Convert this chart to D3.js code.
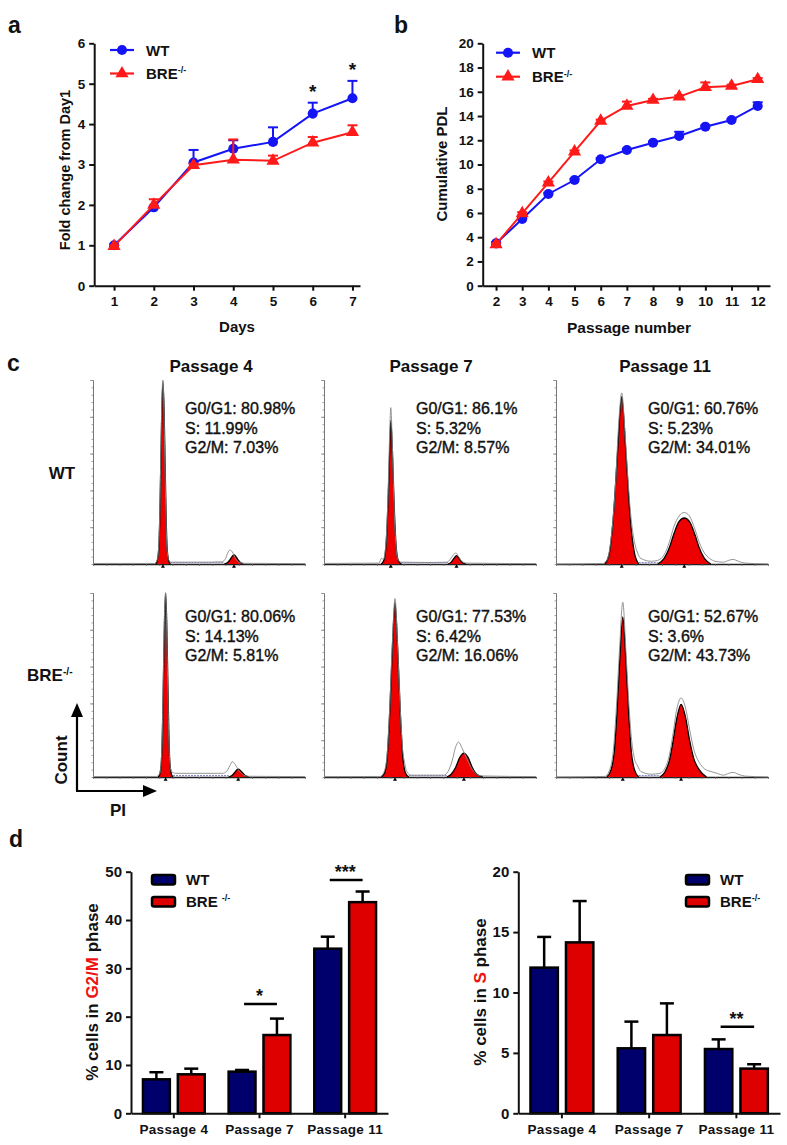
<!DOCTYPE html>
<html><head><meta charset="utf-8">
<script src="https://cdn.jsdelivr.net/npm/d3@7"></script>
<style>body{margin:0;background:#fff}svg{display:block}text{font-family:'Liberation Sans',Arial,Helvetica,sans-serif}</style>
</head><body><script>
// ---------------- DATA ----------------
// Panel a
const days = [1,2,3,4,5,6,7];
const foldWT = [1.0,1.94,3.05,3.39,3.56,4.26,4.64];
const foldWTErr = [0.02,0.04,0.31,0.21,0.36,0.27,0.43];
const foldBRE = [0.98,2.0,2.98,3.12,3.09,3.54,3.8];
const foldBREErr = [0.02,0.14,0.04,0.5,0.13,0.14,0.17];
const foldSig = [{x:6,label:"*"},{x:7,label:"*"}];
const foldYTicks = [0,1,2,3,4,5,6];
// Panel b
const passages = [2,3,4,5,6,7,8,9,10,11,12];
const pdlWT = [3.49,5.5,7.57,8.72,10.43,11.2,11.8,12.35,13.12,13.67,14.83];
const pdlWTErr = [0.1,0.1,0.1,0.1,0.1,0.1,0.1,0.35,0.1,0.1,0.3];
const pdlBRE = [3.41,5.97,8.5,11.06,13.6,14.83,15.32,15.6,16.37,16.48,17.03];
const pdlBREErr = [0.1,0.1,0.1,0.1,0.1,0.36,0.1,0.1,0.4,0.1,0.1];
const pdlYTicks = [0,2,4,6,8,10,12,14,16,18,20];
// Panel c (flow cytometry histograms; x = PI channel 0-200, y = % of max count)
const histCols = ["Passage 4","Passage 7","Passage 11"];
const histRows = ["WT","BRE"];
const histStats = [
  ["G0/G1: 80.98%","S: 11.99%","G2/M: 7.03%"],
  ["G0/G1: 86.1%","S: 5.32%","G2/M: 8.57%"],
  ["G0/G1: 60.76%","S: 5.23%","G2/M: 34.01%"],
  ["G0/G1: 80.06%","S: 14.13%","G2/M: 5.81%"],
  ["G0/G1: 77.53%","S: 6.42%","G2/M: 16.06%"],
  ["G0/G1: 52.67%","S: 3.6%","G2/M: 43.73%"]
];
const p4wtG1 = [[59,0],[60.5,1.5],[62,8],[63,25],[64,55],[65,85],[66,99],[67,85],[68,55],[69,25],[70,8],[71.5,1.5],[73,0]];
const p4wtG2 = [[124,0],[127,0.8],[129.5,2.5],[131.5,4.3],[133,5],[134.5,4.3],[136.5,2.5],[139,0.8],[142,0]];
const p4wtRaw = [[0,0.3],[58,0.3],[60.5,2],[62,10],[63,28],[64,60],[65,90],[66,100],[67,82],[68,50],[69,22],[70,7],[71.5,2],[74,1],[90,1],[110,1],[122,1.2],[125,3],[127.5,6.5],[129.5,7.6],[131.5,6.5],[134,3.5],[137,1.2],[142,0.4],[200,0.2]];
const p7wtG1 = [[54,0],[56.5,2],[58.5,10],[60.5,35],[62,62],[63,78],[64.5,62],[66,35],[68,10],[70,2],[73,0]];
const p7wtG2 = [[117,0],[120,1],[122.5,3],[125,4.5],[127.5,3],[130,1],[134,0]];
const p7wtRaw = [[0,0.3],[52,0.5],[54,3],[56,2.5],[58.5,12],[60.5,40],[62,72],[63,85],[64.5,64],[66,33],[68,9],[70,2],[73,1],[100,0.8],[116,1],[119,2.5],[122,5],[124.5,6],[127,4],[130,1.5],[134,0.5],[200,0.2]];
const p11wtG1 = [[46,0],[50,5],[54,25],[58,60],[62,91],[66,60],[70,25],[74,6],[78,0]];
const p11wtG2 = [[96,0],[102,3],[107,9],[111,16],[116,23],[121,25],[126,23],[131,16],[135,9],[140,3],[146,0]];
const p11wtRaw = [[0,0],[44,0.3],[48,2],[52,14],[56,42],[59,75],[62,93],[65,72],[68,45],[71,24],[74,12],[77,6],[80,3],[90,1.5],[96,2],[102,5],[107,12],[111,20],[116,26],[121,28],[126,26],[131,19],[135,12],[140,6],[145,3],[150,1.5],[158,1],[163,2],[167,2.5],[172,1.5],[178,0.5],[200,0]];
const p4breG1 = [[61.5,0],[63,1.5],[64.5,8],[65.5,25],[66.5,55],[67.5,85],[68.5,100],[69.5,85],[70.5,55],[71.5,25],[72.5,8],[74,1.5],[75.5,0]];
const p4breG2 = [[128,0],[131,0.8],[133.5,2.3],[135.5,3.8],[137,4.3],[139,3.6],[141.5,2],[144,0.6],[147,0]];
const p4breRaw = [[0,0.2],[60,0.3],[63,2],[64.5,10],[65.5,28],[66.5,60],[67.5,90],[68.5,100],[69.5,82],[70.5,50],[71.5,22],[72.5,8],[74,3],[78,2],[100,2],[122,2],[126,3],[129,6],[131.5,8.3],[134,7],[137,4],[141,1.5],[146,0.4],[200,0.2]];
const p7breG1 = [[54,0],[57,2],[59.5,10],[62,35],[64.5,70],[67,95],[69.5,70],[72,35],[74.5,10],[77,2],[80,0]];
const p7breG2 = [[116,0],[120,1.5],[124,5],[128,10.5],[132,13],[136,10.5],[140,5],[144,1.5],[150,0]];
const p7breRaw = [[0,0.2],[53,0.3],[56,2],[59,9],[62,38],[64.5,73],[67,97],[69.5,70],[72,36],[74,16],[76,8],[78,3],[82,1],[100,1],[113,1],[117,3],[121,9],[124,16],[127,19],[130,16],[134,11],[138,6],[142,2.5],[148,0.6],[200,0.2]];
const p11breG1 = [[48,0],[52,4],[55,14],[57.5,35],[60,62],[63,87],[66,62],[68.5,35],[71,14],[74,4],[78,0]];
const p11breG2 = [[98,0],[103,3],[107,9],[110,18],[114,32],[118,39.5],[122,33],[126,20],[130,10],[135,4],[142,0]];
const p11breRaw = [[0,0],[46,0.3],[50,3],[54,14],[57,38],[60,70],[63,95],[66,68],[68.5,42],[71,22],[74,10],[77,6],[80,3],[90,1.5],[98,2],[103,5],[107,12],[110,22],[114,37],[118,43],[122,38],[126,26],[130,15],[135,8],[140,4.5],[146,3],[152,2],[158,1],[163,2],[167,2.5],[172,1.5],[178,0.5],[200,0]];
// Panel d
const barGroups = ["Passage 4","Passage 7","Passage 11"];
const g2mWT = [7.03,8.62,34.07];
const g2mWTErr = [1.47,0.35,2.48];
const g2mBRE = [8.07,16.2,43.7];
const g2mBREErr = [1.17,3.4,2.2];
const g2mSig = [{group:"Passage 7",level:22.6,label:"*"},{group:"Passage 11",level:48.3,label:"***"}];
const g2mYTicks = [0,10,20,30,40,50];
const sWT = [12.06,5.38,5.32];
const sWTErr = [2.54,2.21,0.8];
const sBRE = [14.15,6.48,3.7];
const sBREErr = [3.42,2.62,0.36];
const sSig = [{group:"Passage 11",level:7.17,label:"**"}];
const sYTicks = [0,5,10,15,20];

// ---------------- DRAWING ----------------
const W = 787, H = 1145;
const svg = d3.select("body").append("svg").attr("width", W).attr("height", H);
const BLUE = "#1414f5", RED = "#ff1a1a", NAVY = "#00006c", BARRED = "#de0000", HRED = "#ee0000";

function styleAxis(a, fs){
  a.select(".domain").attr("stroke","#111").attr("stroke-width",2);
  a.selectAll(".tick line").attr("stroke","#111").attr("stroke-width",2);
  a.selectAll(".tick text").attr("fill","#111").attr("font-size",fs||13.5).attr("font-weight","bold");
}
function label(txt, x, y, opt){
  opt = opt || {};
  const t = svg.append("text").attr("x",x).attr("y",y).text(txt)
    .attr("font-size",opt.size||15).attr("font-weight",opt.weight||"bold")
    .attr("text-anchor",opt.anchor||"start").attr("fill",opt.fill||"#111");
  return t;
}
function breLabel(x, y, size, anchor, space){
  const t = svg.append("text").attr("x",x).attr("y",y).attr("font-size",size).attr("font-weight","bold")
    .attr("fill","#111").attr("text-anchor",anchor||"start");
  t.append("tspan").text("BRE" + (space ? " " : ""));
  t.append("tspan").attr("font-size",size*0.6).attr("dy",-size*0.38).text("-/-");
  return t;
}

// ---- line charts ----
function lineChart(o){
  const x = d3.scaleLinear().domain(o.xDomain).range(o.xRange);
  const y = d3.scaleLinear().domain(o.yDomain).range(o.yRange);
  const g = svg.append("g");
  styleAxis(g.append("g").attr("transform",`translate(0,${o.yRange[0]})`)
    .call(d3.axisBottom(x).tickValues(o.xs).tickFormat(d3.format("d")).tickSize(5).tickSizeOuter(0).tickPadding(6)));
  styleAxis(g.append("g").attr("transform",`translate(${o.xRange[0]},0)`)
    .call(d3.axisLeft(y).tickValues(o.yTicks).tickFormat(d3.format("d")).tickSize(5).tickSizeOuter(0).tickPadding(4)));
  o.series.forEach(s=>{
    const pts = o.xs.map((d,i)=>({x:d, v:s.values[i], e:s.err[i]}));
    const eg = g.append("g").attr("stroke",s.color).attr("stroke-width",2);
    pts.forEach(p=>{
      eg.append("line").attr("x1",x(p.x)).attr("x2",x(p.x)).attr("y1",y(p.v)).attr("y2",y(p.v+p.e));
      eg.append("line").attr("x1",x(p.x)-5).attr("x2",x(p.x)+5).attr("y1",y(p.v+p.e)).attr("y2",y(p.v+p.e));
    });
    g.append("path").datum(pts).attr("fill","none").attr("stroke",s.color).attr("stroke-width",2)
      .attr("d", d3.line().x(p=>x(p.x)).y(p=>y(p.v)));
    g.selectAll(null).data(pts).enter().append("path")
      .attr("transform",p=>`translate(${x(p.x)},${y(p.v)})`)
      .attr("d", d3.symbol().type(s.symbol).size(s.symbol===d3.symbolCircle?80:75)).attr("fill",s.color);
  });
  // legend
  o.series.forEach((s,i)=>{
    const ly = o.legend.y + i*o.legend.dy;
    g.append("line").attr("x1",o.legend.x).attr("x2",o.legend.x+24).attr("y1",ly).attr("y2",ly)
      .attr("stroke",s.color).attr("stroke-width",2.2);
    g.append("path").attr("transform",`translate(${o.legend.x+12},${ly})`)
      .attr("d", d3.symbol().type(s.symbol).size(s.symbol===d3.symbolCircle?80:75)).attr("fill",s.color);
    if(s.name==="WT") label("WT", o.legend.x+36, ly+5.5, {size:15});
    else breLabel(o.legend.x+36, ly+5.5, 15);
  });
  return {x,y,g};
}

const A = lineChart({
  xs: days, xDomain:[0.5,7.19], xRange:[94.2,360], yDomain:[0,6], yRange:[285.7,43.3], yTicks: foldYTicks,
  series:[{name:"WT",values:foldWT,err:foldWTErr,color:BLUE,symbol:d3.symbolCircle},
          {name:"BRE",values:foldBRE,err:foldBREErr,color:RED,symbol:d3.symbolTriangle}],
  legend:{x:110,y:50,dy:23.5}
});
foldSig.forEach(s=>{
  const i = days.indexOf(s.x);
  const top = A.y(foldWT[i]+foldWTErr[i]);
  label(s.label, A.x(s.x), top-5, {size:19, anchor:"middle"});
});
label("Days", 237, 332, {size:15, anchor:"middle"});
svg.append("text").attr("transform","translate(65,170) rotate(-90)").attr("dy","0.35em")
  .attr("text-anchor","middle").attr("font-size",14.5).attr("font-weight","bold").attr("fill","#111")
  .text("Fold change from Day1");

const B = lineChart({
  xs: passages, xDomain:[1.49,12.47], xRange:[482.7,770], yDomain:[0,20], yRange:[285.7,43.3], yTicks: pdlYTicks,
  series:[{name:"WT",values:pdlWT,err:pdlWTErr,color:BLUE,symbol:d3.symbolCircle},
          {name:"BRE",values:pdlBRE,err:pdlBREErr,color:RED,symbol:d3.symbolTriangle}],
  legend:{x:496,y:52.7,dy:24}
});
label("Passage number", 629, 333, {size:15.5, anchor:"middle"});
svg.append("text").attr("transform","translate(442,164) rotate(-90)").attr("dy","0.35em")
  .attr("text-anchor","middle").attr("font-size",15).attr("font-weight","bold").attr("fill","#111")
  .text("Cumulative PDL");

// panel letters
label("a", 8, 33, {size:23});
label("b", 394, 33, {size:23});
label("c", 7, 371, {size:23});
label("d", 9, 847, {size:23});

// ---- histograms ----
const histX = [93,324,556], histTop = [380,593], histW = 212, histH = 184;
const titleDx = [118,107,109];
const hists = [
  {g1:p4wtG1,g2:p4wtG2,raw:p4wtRaw},{g1:p7wtG1,g2:p7wtG2,raw:p7wtRaw},{g1:p11wtG1,g2:p11wtG2,raw:p11wtRaw},
  {g1:p4breG1,g2:p4breG2,raw:p4breRaw},{g1:p7breG1,g2:p7breG2,raw:p7breRaw},{g1:p11breG1,g2:p11breG2,raw:p11breRaw}
];
hists.forEach((h,i)=>{
  const col = i%3, row = Math.floor(i/3);
  const x0 = histX[col], top = histTop[row];
  const x = d3.scaleLinear().domain([0,200]).range([x0, x0+histW]);
  const y = d3.scaleLinear().domain([0,100]).range([top+histH, top]);
  const g = svg.append("g");
  const ya1 = g.append("g").attr("transform",`translate(${x0},0)`)
    .call(d3.axisLeft(y).tickValues(d3.range(0,101,4)).tickSize(1.5).tickFormat("").tickSizeOuter(0));
  const ya2 = g.append("g").attr("transform",`translate(${x0},0)`)
    .call(d3.axisLeft(y).tickValues(d3.range(20,101,20)).tickSize(3).tickFormat("").tickSizeOuter(0));
  [ya1,ya2].forEach(a=>{a.select(".domain").attr("stroke","#777").attr("stroke-width",1);
    a.selectAll(".tick line").attr("stroke","#888").attr("stroke-width",0.8);});
  const xa = g.append("g").attr("transform",`translate(0,${top+histH})`)
    .call(d3.axisBottom(x).tickValues(d3.range(0,201,12.5)).tickSize(2).tickFormat("").tickSizeOuter(0));
  xa.select(".domain").attr("stroke","#222").attr("stroke-width",1.3);
  xa.selectAll(".tick line").attr("stroke","#666").attr("stroke-width",0.8);
  const area = d3.area().x(d=>x(d[0])).y0(y(0)).y1(d=>y(d[1])).curve(d3.curveMonotoneX);
  const line = d3.line().x(d=>x(d[0])).y(d=>y(d[1])).curve(d3.curveMonotoneX);
  g.append("line").attr("x1",x(h.g1[h.g1.length-1][0])).attr("x2",x(h.g2[0][0]))
    .attr("y1",y(0.7)).attr("y2",y(0.7)).attr("stroke","#8a8ac8").attr("stroke-width",1.2).attr("stroke-dasharray","2,1");
  [h.g1,h.g2].forEach(pk=>{
    g.append("path").attr("d",area(pk)).attr("fill",HRED).attr("stroke","none");
    g.append("path").attr("d",line(pk)).attr("fill","none").attr("stroke","#000").attr("stroke-width",1.3);
  });
  g.append("path").attr("d",line(h.raw)).attr("fill","none").attr("stroke","#888").attr("stroke-width",0.9);
  [h.g1,h.g2].forEach(pk=>{
    const c = pk.reduce((a,b)=>b[1]>a[1]?b:a)[0];
    g.append("path").attr("transform",`translate(${x(c)},${top+histH+2.5})`)
      .attr("d",d3.symbol().type(d3.symbolTriangle).size(7)).attr("fill","#000");
  });
  histStats[i].forEach((s,k)=>{
    label(s, x0+92, (row===0?414:622)+k*19.5, {size:16, weight:"normal"})
      .attr("stroke","#111").attr("stroke-width",0.4);
  });
  if(row===0) label(histCols[col], x0+titleDx[col], 372, {size:17, anchor:"middle"});
});
label("WT", 62, 479, {size:17, anchor:"middle"});
breLabel(27, 681, 17);
svg.append("line").attr("x1",77).attr("x2",77).attr("y1",791).attr("y2",712).attr("stroke","#000").attr("stroke-width",2.2);
svg.append("path").attr("d","M77,703 L71,717 L83,717 Z").attr("fill","#000");
svg.append("line").attr("x1",76).attr("x2",148).attr("y1",791).attr("y2",791).attr("stroke","#000").attr("stroke-width",2.2);
svg.append("path").attr("d","M157,791 L143,785 L143,797 Z").attr("fill","#000");
svg.append("text").attr("transform","translate(61,760) rotate(-90)").attr("dy","0.35em")
  .attr("text-anchor","middle").attr("font-size",17).attr("font-weight","bold").attr("fill","#111").text("Count");
label("PI", 118, 816, {size:17, anchor:"middle"});

// ---- bar charts ----
function barChart(o){
  const x = d3.scaleBand().domain(barGroups).range(o.xRange).padding(0);
  const xs = d3.scaleBand().domain(["WT","BRE"]).range([0,x.bandwidth()]).paddingInner(0.229).paddingOuter(0.343);
  const y = d3.scaleLinear().domain(o.yDomain).range([1113.3,871.7]);
  const g = svg.append("g");
  const series = [{k:"WT",v:o.wt,e:o.wtErr,c:NAVY},{k:"BRE",v:o.bre,e:o.breErr,c:BARRED}];
  series.forEach(s=>{
    barGroups.forEach((grp,i)=>{
      const bx = x(grp)+xs(s.k), cx = bx+xs.bandwidth()/2;
      g.append("line").attr("x1",cx).attr("x2",cx).attr("y1",y(s.v[i])).attr("y2",y(s.v[i]+s.e[i]))
        .attr("stroke","#000").attr("stroke-width",2.5);
      g.append("line").attr("x1",cx-7).attr("x2",cx+7).attr("y1",y(s.v[i]+s.e[i])).attr("y2",y(s.v[i]+s.e[i]))
        .attr("stroke","#000").attr("stroke-width",2.5);
      g.append("rect").attr("x",bx).attr("width",xs.bandwidth()).attr("y",y(s.v[i]))
        .attr("height",y(0)-y(s.v[i])).attr("fill",s.c).attr("stroke","#000").attr("stroke-width",2.5);
    });
  });
  styleAxis(g.append("g").attr("transform",`translate(0,${y(0)})`)
    .call(d3.axisBottom(x).tickSize(5).tickSizeOuter(0).tickPadding(6)), 13.5);
  g.selectAll(".tick text").attr("letter-spacing",0.3);
  styleAxis(g.append("g").attr("transform",`translate(${o.xRange[0]},0)`)
    .call(d3.axisLeft(y).tickValues(o.yTicks).tickSize(5).tickSizeOuter(0).tickPadding(4)), 15);
  o.sigs.forEach(s=>{
    const x1 = x(s.group)+xs("WT")+xs.bandwidth()/2, x2 = x(s.group)+xs("BRE")+xs.bandwidth()/2;
    g.append("line").attr("x1",x1+2).attr("x2",x2).attr("y1",y(s.level)).attr("y2",y(s.level)).attr("stroke","#000").attr("stroke-width",2.5);
    label(s.label, (x1+x2)/2, y(s.level)-2, {size:18, anchor:"middle"});
  });
  series.forEach((s,i)=>{
    const ly = 875 + i*22;
    g.append("rect").attr("x",o.legendX).attr("y",ly).attr("width",23).attr("height",9.5).attr("rx",2)
      .attr("fill",s.c).attr("stroke","#000").attr("stroke-width",2.5);
    if(s.k==="WT") label("WT", o.legendX+34, ly+10, {size:15});
    else breLabel(o.legendX+34, ly+10, 15, "start", o.breSpace);
  });
  const t = svg.append("text").attr("transform",`translate(${o.labelX},992) rotate(-90)`).attr("dy","0.35em")
    .attr("text-anchor","middle").attr("font-size",17).attr("font-weight","bold").attr("fill","#111");
  t.append("tspan").text("% cells in ");
  t.append("tspan").attr("fill","#ee1111").text(o.red);
  t.append("tspan").text(" phase");
}
barChart({xRange:[131,388], yDomain:[0,50], yTicks:g2mYTicks, wt:g2mWT, wtErr:g2mWTErr, bre:g2mBRE, breErr:g2mBREErr,
  sigs:g2mSig, legendX:152, breSpace:true, labelX:92, red:"G2/M"});
barChart({xRange:[518.3,780], yDomain:[0,20], yTicks:sYTicks, wt:sWT, wtErr:sWTErr, bre:sBRE, breErr:sBREErr,
  sigs:sSig, legendX:686, breSpace:false, labelX:480, red:"S"});
</script></body></html>
